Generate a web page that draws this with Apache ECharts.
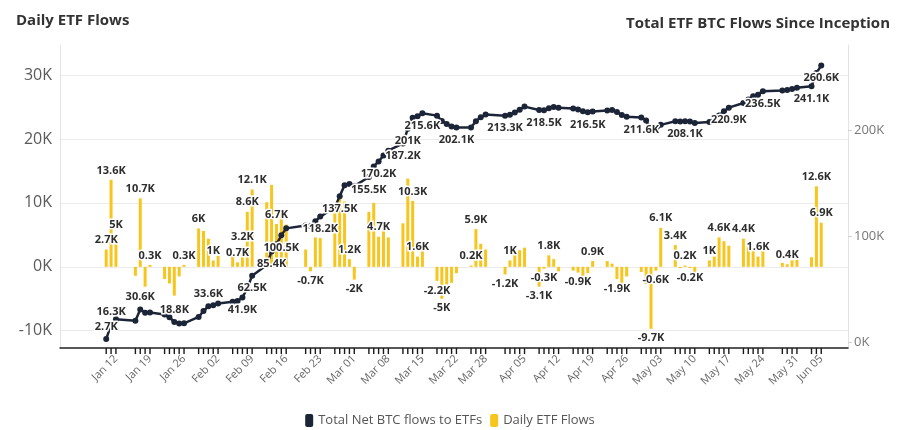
<!DOCTYPE html>
<html>
<head>
<meta charset="utf-8">
<script src="https://cdn.jsdelivr.net/npm/echarts@6/dist/echarts.min.js"></script>
<style>
  html, body { margin: 0; background: #fff; }
  #main { width: 900px; height: 430px; }
</style>
</head>
<body>
<div id="main"></div>
<script>
// trading days (K BTC)
const tradingDays = [
  'Jan 10','Jan 11','Jan 12','Jan 16','Jan 17','Jan 18','Jan 19','Jan 22','Jan 23','Jan 24','Jan 25','Jan 26','Jan 29','Jan 30','Jan 31',
  'Feb 01','Feb 02','Feb 05','Feb 06','Feb 07','Feb 08','Feb 09','Feb 12','Feb 13','Feb 14','Feb 15','Feb 16','Feb 20','Feb 21','Feb 22','Feb 23','Feb 26','Feb 27','Feb 28','Feb 29',
  'Mar 01','Mar 04','Mar 05','Mar 06','Mar 07','Mar 08','Mar 11','Mar 12','Mar 13','Mar 14','Mar 15','Mar 18','Mar 19','Mar 20','Mar 21','Mar 22','Mar 25','Mar 26','Mar 27','Mar 28',
  'Apr 01','Apr 02','Apr 03','Apr 04','Apr 05','Apr 08','Apr 09','Apr 10','Apr 11','Apr 12','Apr 15','Apr 16','Apr 17','Apr 18','Apr 19','Apr 22','Apr 23','Apr 24','Apr 25','Apr 26','Apr 29','Apr 30',
  'May 01','May 02','May 03','May 06','May 07','May 08','May 09','May 10','May 13','May 14','May 15','May 16','May 17','May 20','May 21','May 22','May 23','May 24','May 28','May 29','May 30','May 31',
  'Jun 03','Jun 04','Jun 05'
];

const dailyFlows = [
  2.7, 13.6, 5.0, -1.4, 10.7, -3.1, 0.3, -1.9, -2.6, -4.5, -1.5, 0.3, 6.0, 5.6, 4.4,
  1.0, 1.7, 1.7, 0.7, 3.2, 8.6, 12.1, 10.1, 12.8, 6.7, 8.4, 6.6, 2.7, -0.7, 4.6, 4.5, 8.6, 10.7, 10.2, 1.2,
  -2.0, 8.6, 10.0, 4.7, 5.6, 4.6, 6.8, 13.8, 10.3, 1.6, 2.7, -2.2, -5.0, -2.8, -2.5, -1.0, 0.2, 5.9, 3.6, 2.7,
  -1.2, 1.0, 2.0, 2.6, 3.0, -3.1, -0.3, 1.8, 1.2, -0.7, -0.6, -0.9, -1.8, -1.0, 0.9, 0.9, 0.5, -1.9, -3.0, -1.5, -0.8, -2.7,
  -9.7, -0.6, 6.1, 3.4, -0.2, 0.2, -0.2, -1.5, 1.0, 1.6, 4.6, 4.0, 3.3, 4.4, 3.4, 2.9, 1.6, 3.3, 0.6, 0.4, 1.0, 1.1,
  1.5, 12.6, 6.9
];

const totalFlows = [
  2.7, 16.3, 21.3, 19.9, 30.6, 27.5, 27.8, 25.9, 23.3, 18.8, 17.3, 17.6, 23.6, 29.2, 33.6,
  34.6, 36.3, 38.0, 38.7, 41.9, 50.5, 62.5, 72.6, 85.4, 92.1, 100.5, 107.1, 109.8, 109.1, 113.7, 118.2, 126.8, 137.5, 147.7, 148.9,
  146.9, 155.5, 165.5, 170.2, 175.8, 180.4, 187.2, 201.0, 211.3, 212.9, 215.6, 213.4, 208.4, 205.6, 203.1, 202.1, 202.3, 208.2, 211.8, 214.5,
  213.3, 214.3, 216.3, 218.9, 221.9, 218.8, 218.5, 220.3, 221.5, 220.8, 220.2, 219.3, 217.5, 216.5, 217.4, 218.3, 218.8, 216.9, 213.9, 212.4, 211.6, 208.9,
  199.2, 198.6, 204.7, 208.1, 207.9, 208.1, 207.9, 206.4, 207.4, 209.0, 213.6, 217.6, 220.9, 225.3, 228.7, 231.6, 233.2, 236.5, 237.1, 237.5, 238.5, 239.6,
  241.1, 253.7, 260.6
];

const tickLabelDays = ['Jan 12','Jan 19','Jan 26','Feb 02','Feb 09','Feb 16','Feb 23','Mar 01','Mar 08','Mar 15','Mar 22','Mar 28',
  'Apr 05','Apr 12','Apr 19','Apr 26','May 03','May 10','May 17','May 24','May 31','Jun 05'];

const barLabelDays = ['Jan 10','Jan 11','Jan 12','Jan 17','Jan 19','Jan 26','Jan 29','Feb 01','Feb 06','Feb 07','Feb 08','Feb 09',
  'Feb 14','Feb 21','Feb 29','Mar 01','Mar 06','Mar 13','Mar 14','Mar 18','Mar 19','Mar 25','Mar 26','Apr 01','Apr 02',
  'Apr 08','Apr 09','Apr 10','Apr 16','Apr 19','Apr 24','May 01','May 02','May 03','May 06','May 08','May 09','May 13',
  'May 15','May 20','May 23','May 29','Jun 04','Jun 05'];

const lineLabelDays = ['Jan 10','Jan 11','Jan 17','Jan 24','Jan 31','Feb 07','Feb 09','Feb 13','Feb 15','Feb 23','Feb 27',
  'Mar 04','Mar 06','Mar 11','Mar 12','Mar 15','Mar 22','Apr 01','Apr 09','Apr 18','Apr 29','May 08','May 17','May 24',
  'Jun 03','Jun 05'];

// calendar axis, weekends left empty
const monthNames = ['Jan','Feb','Mar','Apr','May','Jun'];
const calendarDays = [];
for (let d = new Date(Date.UTC(2024, 0, 1)); d <= new Date(Date.UTC(2024, 5, 10)); d.setUTCDate(d.getUTCDate() + 1)) {
  calendarDays.push(monthNames[d.getUTCMonth()] + ' ' + String(d.getUTCDate()).padStart(2, '0'));
}

const fmtK = (v) => Math.round(v * 10) / 10 + 'K';

const barData = calendarDays.map((day) => {
  const i = tradingDays.indexOf(day);
  return i < 0 ? '-' : dailyFlows[i];
});
const lineData = calendarDays.map((day) => {
  const i = tradingDays.indexOf(day);
  if (i < 0) return '-';
  return { value: totalFlows[i], label: { position: totalFlows[i] < 40 ? 'top' : 'bottom' } };
});
// short marks under the axis on trading days (axis ticks)
const tickDepth = 0.02;
const tickData = calendarDays.map((day) => (tradingDays.includes(day) ? -tickDepth : '-'));

const labelText = {
  fontSize: 11,
  fontWeight: 'bold',
  color: '#2e2e2e',
  textBorderColor: '#fff',
  textBorderWidth: 3
};

var chartDom = document.getElementById('main');
var myChart = echarts.init(chartDom, null, { renderer: 'canvas' });
var option = {
  animation: false,
  textStyle: { fontFamily: 'Open Sans' },
  title: [
    { text: 'Daily ETF Flows', left: 11, top: 8, textStyle: { fontSize: 15, fontWeight: 'bold', color: '#333' } },
    { text: 'Total ETF BTC Flows Since Inception', right: 5, top: 11, textStyle: { fontSize: 15, fontWeight: 'bold', color: '#333' } }
  ],
  legend: {
    bottom: -2,
    left: 'center',
    icon: 'roundRect',
    itemWidth: 8,
    itemHeight: 13,
    itemGap: 8,
    textStyle: { fontSize: 13, color: '#555' },
    data: ['Total Net BTC flows to ETFs', 'Daily ETF Flows']
  },
  grid: { left: 60, right: 52, top: 45, bottom: 82, outerBoundsMode: 'none' },
  xAxis: [
    {
      type: 'category',
      data: calendarDays,
      axisLine: { show: true, onZero: false, lineStyle: { color: '#222', width: 1.5 } },
      axisTick: { show: false },
      axisLabel: {
        interval: (i, v) => tickLabelDays.includes(v),
        rotate: 45,
        fontSize: 11,
        color: '#666',
        margin: 9
      }
    },
    {
      type: 'category',
      data: calendarDays,
      show: false
    }
  ],
  yAxis: [
    {
      type: 'value',
      min: -12.7,
      max: 34.7,
      axisLine: { show: true, lineStyle: { color: '#e3e3e3' } },
      axisTick: { show: false },
      axisLabel: { formatter: (v) => v + 'K', fontSize: 16, color: '#5a5a5a', showMinLabel: false, showMaxLabel: false },
      splitLine: { lineStyle: { color: '#ebebeb' }, showMinLine: false, showMaxLine: false }
    },
    {
      type: 'value',
      min: -5.7,
      max: 280,
      splitNumber: 3,
      position: 'right',
      axisLine: { show: true, lineStyle: { color: '#e3e3e3' } },
      axisTick: { show: true, length: 4, lineStyle: { color: '#cfcfcf' } },
      axisLabel: { formatter: (v) => v + 'K', fontSize: 13, color: '#777', margin: 6, showMinLabel: false, showMaxLabel: false },
      splitLine: { show: false }
    },
    {
      type: 'value',
      min: 0,
      max: 1,
      show: false
    }
  ],
  series: [
    {
      name: 'Daily ETF Flows',
      type: 'bar',
      yAxisIndex: 0,
      data: barData,
      barWidth: 3,
      z: 2,
      itemStyle: { color: '#f8c51c' },
      label: Object.assign({
        show: true,
        position: 'outside',
        distance: 4,
        formatter: (p) => (barLabelDays.includes(p.name) ? fmtK(p.value) : '')
      }, labelText)
    },
    {
      name: 'Total Net BTC flows to ETFs',
      type: 'line',
      yAxisIndex: 1,
      data: lineData,
      connectNulls: true,
      showAllSymbol: true,
      z: 5,
      symbol: 'circle',
      symbolSize: 6,
      lineStyle: { color: '#1c2438', width: 2.5 },
      itemStyle: { color: '#1c2438' },
      label: Object.assign({
        show: true,
        distance: 4,
        formatter: (p) => (lineLabelDays.includes(p.name) ? fmtK(p.value) : '')
      }, labelText)
    },
    {
      name: 'dayTicks',
      type: 'bar',
      xAxisIndex: 1,
      yAxisIndex: 2,
      data: tickData,
      barWidth: 1.4,
      clip: false,
      silent: true,
      z: 6,
      itemStyle: { color: '#1a1a1a' }
    }
  ]
};
option && myChart.setOption(option);
</script>
</body>
</html>
